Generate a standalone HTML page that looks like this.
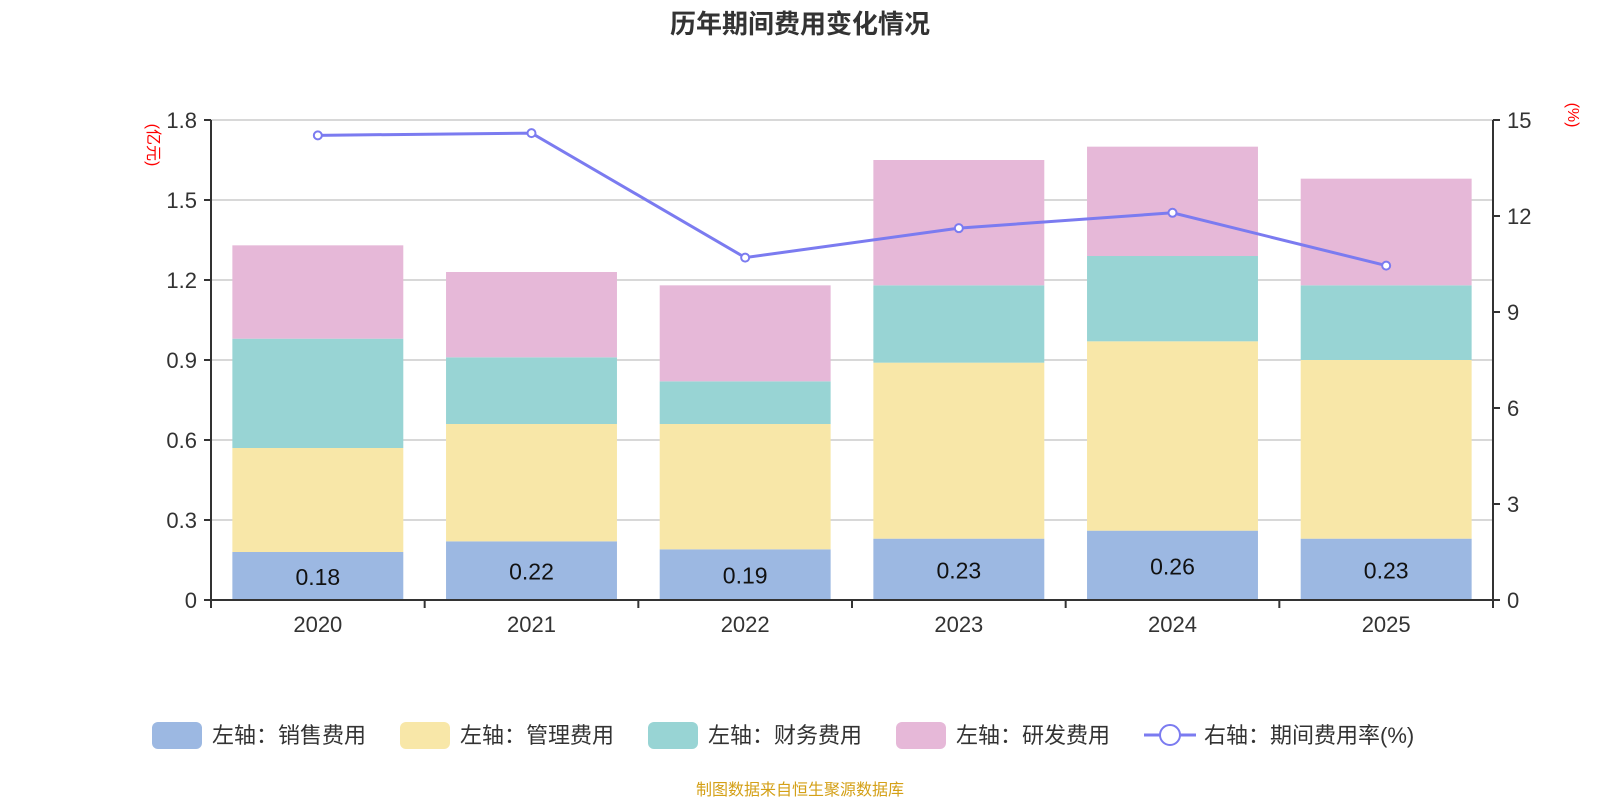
<!DOCTYPE html>
<html><head><meta charset="utf-8">
<style>
body{margin:0;background:#fff;font-family:"Liberation Sans","Noto Sans CJK SC",sans-serif;}
svg text{font-family:"Liberation Sans","Noto Sans CJK SC",sans-serif;}
</style></head>
<body>
<svg id="chart" width="1600" height="800" xmlns="http://www.w3.org/2000/svg">
<text x="800" y="33" text-anchor="middle" font-size="26" font-weight="bold" fill="#333">历年期间费用变化情况</text>
<text transform="translate(148,145) rotate(90)" text-anchor="middle" font-size="16" fill="#f00">(亿元)</text>
<text transform="translate(1568,115) rotate(90)" text-anchor="middle" font-size="16" fill="#f00">(%)</text>
<g id="grid"></g><g id="bars"></g><g id="axes"></g><g id="line"></g>
<g id="legend" transform="translate(0,735)"></g>
<text x="800" y="795" text-anchor="middle" font-size="16" fill="#d4a017">制图数据来自恒生聚源数据库</text>
</svg>
<script>
const categories=['2020','2021','2022','2023','2024','2025'];
const sales=[0.18,0.22,0.19,0.23,0.26,0.23];
const admin=[0.39,0.44,0.47,0.66,0.71,0.67];
const finance=[0.41,0.25,0.16,0.29,0.32,0.28];
const rnd=[0.35,0.32,0.36,0.47,0.41,0.40];
const rate=[14.52,14.59,10.70,11.62,12.10,10.45];
const leftTicks=['0','0.3','0.6','0.9','1.2','1.5','1.8'];
const rightTicks=['0','3','6','9','12','15'];
const NS='http://www.w3.org/2000/svg';
const X0=211,X1=1493,Y0=600,Y1=120;
const band=(X1-X0)/categories.length;
const yL=v=>Y0-(v/1.8)*(Y0-Y1);
const yR=v=>Y0-(v/15)*(Y0-Y1);
const xC=i=>X0+band*(i+0.5);
function mk(tag,attrs,parent,text){const e=document.createElementNS(NS,tag);for(const k in attrs)e.setAttribute(k,attrs[k]);if(text!==undefined)e.textContent=text;document.getElementById(parent).appendChild(e);return e;}
leftTicks.forEach((t,i)=>{const v=parseFloat(t);const y=yL(v);
 if(v>0){const g=mk('line',{x1:X0,x2:X1,y1:y,y2:y,stroke:'#ccc','stroke-width':1.5},'grid');}
 mk('line',{x1:X0-7,x2:X0,y1:y,y2:y,stroke:'#333','stroke-width':2},'axes');
 const tx=mk('text',{x:X0-14,y:y+8,'text-anchor':'end','font-size':22,fill:'#333'},'axes',t);
 });
rightTicks.forEach(t=>{const y=yR(parseFloat(t));
 mk('line',{x1:X1,x2:X1+7,y1:y,y2:y,stroke:'#333','stroke-width':2},'axes');
 const tx=mk('text',{x:X1+14,y:y+8,'font-size':22,fill:'#333'},'axes',t);
 });
mk('line',{x1:X0,x2:X0,y1:Y1,y2:Y0,stroke:'#333','stroke-width':2},'axes');
mk('line',{x1:X1,x2:X1,y1:Y1,y2:Y0,stroke:'#333','stroke-width':2},'axes');
mk('line',{x1:X0,x2:X1,y1:Y0,y2:Y0,stroke:'#333','stroke-width':2},'axes');
for(let i=0;i<=categories.length;i++){mk('line',{x1:X0+band*i,x2:X0+band*i,y1:Y0,y2:Y0+8,stroke:'#333','stroke-width':2},'axes');}
const series=[[sales,'#9cb8e2','sales'],[admin,'#f8e7a8','admin'],[finance,'#98d4d4','finance'],[rnd,'#e6b8d8','rnd']];
const bw=band*0.8;
categories.forEach((c,i)=>{let acc=0;
 series.forEach(([arr,col,nm])=>{const y0=yL(acc),y1=yL(acc+arr[i]);acc+=arr[i];
  const r=mk('rect',{x:xC(i)-bw/2,y:y1,width:bw,height:y0-y1,fill:col},'bars');
  });
 const lb=mk('text',{x:xC(i),y:(yL(0)+yL(sales[i]))/2+9,'text-anchor':'middle','font-size':23,fill:'#111'},'bars',sales[i].toFixed(2));
 
 const xl=mk('text',{x:xC(i),y:Y0+32,'text-anchor':'middle','font-size':22,fill:'#333'},'axes',c);
 });
const pl=mk('polyline',{points:rate.map((v,i)=>xC(i)+','+yR(v)).join(' '),fill:'none',stroke:'#7b7bf0','stroke-width':3},'line');

rate.forEach((v,i)=>{const p=mk('circle',{cx:xC(i),cy:yR(v),r:4,fill:'#fff',stroke:'#7b7bf0','stroke-width':2},'line');
 });
const legends=[['#9cb8e2','左轴：销售费用',152],['#f8e7a8','左轴：管理费用',400],['#98d4d4','左轴：财务费用',648],['#e6b8d8','左轴：研发费用',896],[null,'右轴：期间费用率(%)',1144]];
legends.forEach(([col,txt,x])=>{
 if(col){const r=mk('rect',{x:x,y:-13,width:50,height:27,rx:6,fill:col},'legend');}
 else{mk('line',{x1:x,x2:x+52,y1:0,y2:0,stroke:'#7b7bf0','stroke-width':3},'legend');mk('circle',{cx:x+26,cy:0,r:10,fill:'#fff',stroke:'#7b7bf0','stroke-width':2},'legend');}
 const t=mk('text',{x:x+60,y:8,'font-size':22,fill:'#333'},'legend',txt);
 });
</script>
</body></html>
